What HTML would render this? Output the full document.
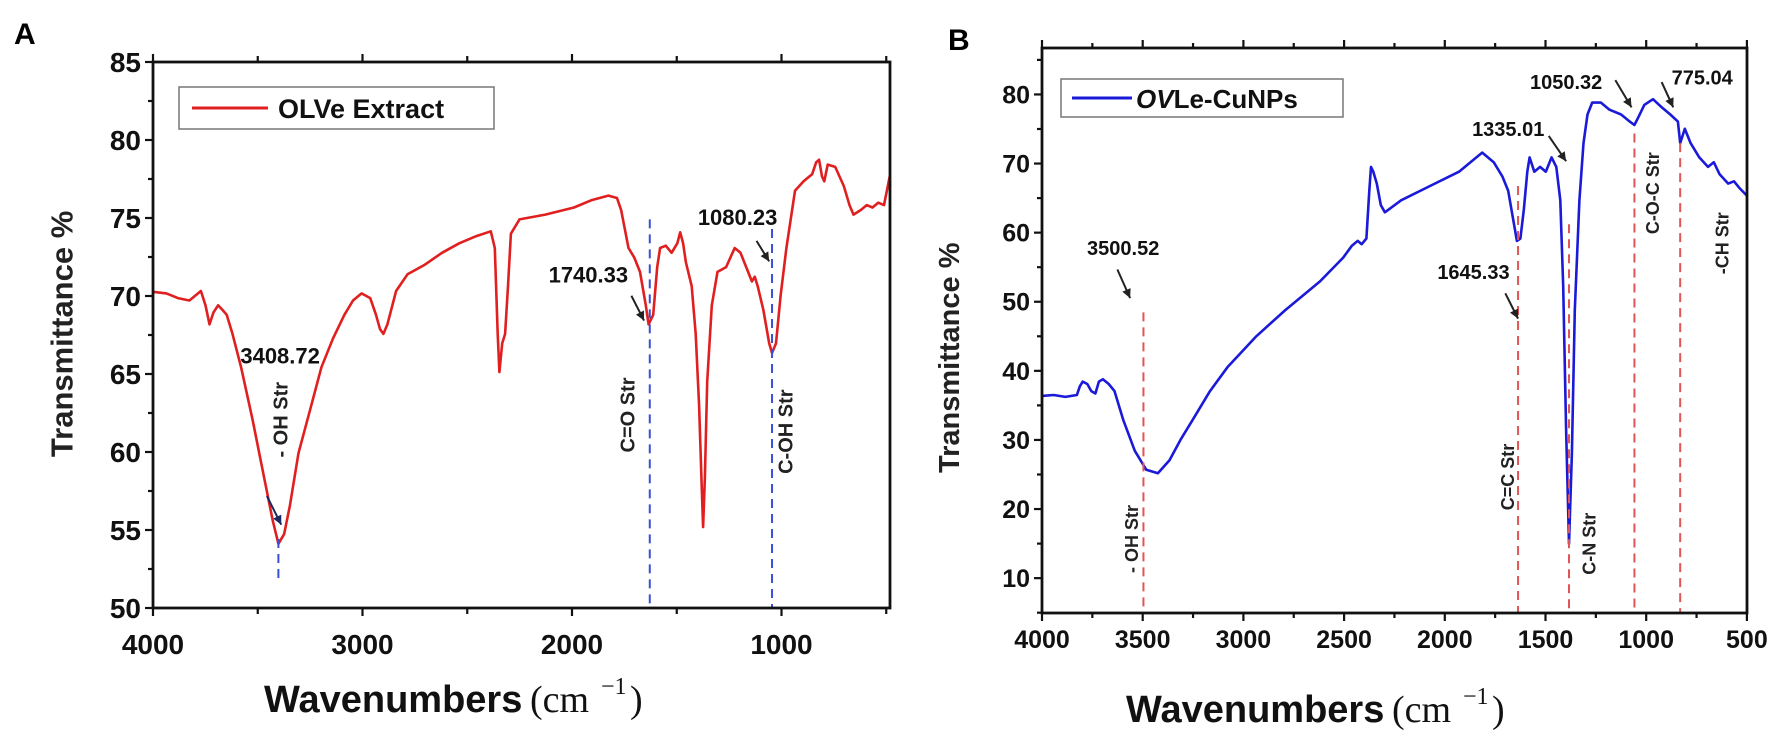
<!DOCTYPE html>
<html><head><meta charset="utf-8">
<style>
html,body{margin:0;padding:0;background:#fff;}
svg{display:block;font-family:"Liberation Sans",Arial,sans-serif;}
</style></head>
<body>
<svg id="s" width="1788" height="748" viewBox="0 0 1788 748" xmlns="http://www.w3.org/2000/svg">
<rect width="1788" height="748" fill="#fff"/>
<text x="14" y="44" font-size="30" font-weight="bold">A</text>
<text x="948" y="50" font-size="30" font-weight="bold">B</text>
<g id="g"></g>
</svg>
<script>
const NS="http://www.w3.org/2000/svg";
const g=document.getElementById('g');
function el(tag,attrs,text){const e=document.createElementNS(NS,tag);for(const k in attrs)e.setAttribute(k,attrs[k]);if(text!==undefined)e.textContent=text;g.appendChild(e);return e;}
function line(x1,y1,x2,y2,st,w,dash){return el('line',{x1,y1,x2,y2,stroke:st,'stroke-width':w||2.5,'stroke-dasharray':dash||'none'});}
function txt(x,y,s,size,anchor,extra){const a=Object.assign({x,y,'font-size':size,'font-weight':'bold','text-anchor':anchor||'middle',fill:'#111'},extra||{});return el('text',a,s);}
function rtxt(cx,cy,s,size){el('text',{x:0,y:0,'font-size':size,'font-weight':'bold','text-anchor':'middle','dominant-baseline':'central',fill:'#222',transform:`translate(${cx},${cy}) rotate(-90)`},s);}
function arrow(x1,y1,x2,y2,c){line(x1,y1,x2,y2,c,2);const a=Math.atan2(y2-y1,x2-x1),L=9,W=4.5;
 const p=[[x2,y2],[x2-L*Math.cos(a)+W*Math.sin(a),y2-L*Math.sin(a)-W*Math.cos(a)],[x2-L*Math.cos(a)-W*Math.sin(a),y2-L*Math.sin(a)+W*Math.cos(a)]];
 el('polygon',{points:p.map(q=>q.join(',')).join(' '),fill:c});}

/* ---------- Panel A ---------- */
const AX=z=>z*0.574, AY=z=>z*0.477;
const aL=153,aR=890,aT=62,aB=608;
const axA=w=>aL+(4000-w)*0.2095, ayA=t=>aB-(t-50)*15.6;
// curve
const A=[[268,612],[290,615],[310,625],[330,630],[350,610],[358,640],[365,680],[372,655],[380,640],[388,650],[395,660],[405,700],[420,770],[440,880],[460,1000],[475,1090],[485,1140],[495,1120],[505,1060],[520,950],[540,860],[560,770],[580,710],[600,660],[615,630],[630,615],[645,625],[655,660],[662,690],[668,700],[675,680],[690,610],[710,575],[740,555],[770,530],[800,510],[830,495],[855,485],[862,520],[867,700],[870,780],[875,720],[880,700],[885,600],[890,490],[905,460],[950,450],[1000,435],[1030,420],[1060,410],[1075,415],[1082,440],[1095,520],[1105,540],[1115,570],[1125,640],[1130,680],[1138,660],[1145,560],[1150,520],[1160,515],[1170,530],[1180,510],[1185,487],[1190,510],[1195,550],[1205,600],[1212,700],[1218,850],[1222,1000],[1225,1105],[1228,1000],[1232,800],[1240,640],[1250,570],[1265,560],[1280,520],[1290,530],[1300,560],[1310,590],[1315,580],[1320,600],[1330,650],[1340,720],[1345,740],[1352,720],[1360,620],[1370,520],[1385,400],[1400,380],[1415,365],[1422,340],[1427,335],[1432,370],[1436,380],[1442,345],[1455,350],[1470,390],[1480,430],[1487,450],[1500,440],[1510,430],[1520,435],[1530,425],[1540,430],[1550,370]];
el('polyline',{points:A.map(p=>AX(p[0]).toFixed(1)+','+AY(p[1]).toFixed(1)).join(' '),fill:'none',stroke:'#e02020','stroke-width':2.6,'stroke-linejoin':'round'});
// dashed
const bd='#3a4fd8';
line(AX(485),AY(1130),AX(485),AY(1215),bd,2,'9,6');
line(AX(1132),AY(460),AX(1132),aB,bd,2,'9,6');
line(AX(1345),AY(480),AX(1345),aB,bd,2,'9,6');
// arrows
arrow(AX(465),AY(1040),AX(490),AY(1100),'#1a2a60');
arrow(AX(1100),AY(620),AX(1122),AY(672),'#222');
arrow(AX(1318),AY(505),AX(1340),AY(548),'#222');
txt(AX(488),AY(745)+8,'3408.72',22);
txt(AX(1025),AY(575)+8,'1740.33',22);
txt(AX(1285),AY(455)+8,'1080.23',22);
rtxt(AX(490),AY(880),'- OH Str',20);
rtxt(AX(1095),AY(870),'C=O Str',20);
rtxt(AX(1370),AY(905),'C-OH Str',20);
// frame
el('rect',{x:aL,y:aT,width:aR-aL,height:aB-aT,fill:'none',stroke:'#111','stroke-width':2.8});
for(let t=50;t<=85;t+=2.5){const y=ayA(t),maj=(t%5===0);line(aL-(maj?8:5),y,aL,y,'#111',2.2);line(aR,y,aR+(maj?0:0),y,'#111',0);
 if(maj)txt(aL-12,y+10,String(t),28,'end');}
for(let w=4000;w>=500;w-=500){const x=axA(w);if(x>aR+1)continue;const maj=(w%1000===0);
 line(x,aB,x,aB+(maj?8:6),'#111',2.2);line(x,aT,x,aT-(maj?8:6),'#111',2.2);
 if(maj)txt(x,AY(1350)+10,String(w),28);}
// legend
el('rect',{x:179,y:87,width:315,height:42,fill:'#fff',stroke:'#777','stroke-width':1.5});
line(192,108,268,108,'#e02020',3);
txt(278,118,'OLVe Extract',27,'start');
rtxt(62,AY(700),'Transmittance %',31);
el('text',{x:264,y:712,'font-size':38,'font-weight':'bold',fill:'#111'},'Wavenumbers');
el('text',{x:530,y:712,'font-size':38,'font-family':'Liberation Serif,serif',fill:'#111'},'(cm');
el('text',{x:601,y:694,'font-size':24,'font-family':'Liberation Serif,serif',fill:'#111'},'−1');
el('text',{x:630,y:712,'font-size':38,'font-family':'Liberation Serif,serif',fill:'#111'},')');

/* ---------- Panel B ---------- */
const BX=z=>z*0.579+880, BY=z=>z*0.477;
const bL=1042,bR=1747,bT=48,bB=613;
const bx=w=>bL+(4000-w)*0.2014, by=t=>BY(198)+(80-t)*6.91;
const B=[[280,830],[300,828],[320,832],[340,828],[345,810],[350,800],[358,805],[365,820],[372,825],[378,800],[385,795],[395,805],[405,820],[420,880],[440,945],[460,985],[480,992],[500,965],[520,920],[540,880],[570,820],[600,770],[650,705],[700,650],[760,590],[800,540],[815,515],[825,505],[832,512],[840,500],[845,400],[848,350],[852,360],[858,385],[865,430],[872,445],[900,420],[950,390],[1000,360],[1030,330],[1040,320],[1050,330],[1060,340],[1075,370],[1085,400],[1095,470],[1100,505],[1106,500],[1112,440],[1118,360],[1122,330],[1130,360],[1140,350],[1150,360],[1160,330],[1168,350],[1175,420],[1180,600],[1185,900],[1190,1140],[1195,950],[1200,650],[1208,420],[1215,300],[1222,240],[1230,215],[1245,215],[1260,230],[1280,240],[1295,255],[1303,262],[1310,245],[1320,220],[1335,208],[1350,225],[1365,240],[1378,255],[1382,300],[1390,270],[1400,300],[1415,330],[1430,350],[1440,340],[1450,365],[1465,385],[1475,380],[1485,395],[1497,410]];
el('polyline',{points:B.map(p=>BX(p[0]).toFixed(1)+','+BY(p[1]).toFixed(1)).join(' '),fill:'none',stroke:'#1a1ad8','stroke-width':2.6,'stroke-linejoin':'round'});
const rd='#e05555';
[[455,655],[1102,390],[1190,470],[1303,280],[1382,300]].forEach(p=>line(BX(p[0]),BY(p[1]),BX(p[0]),bB,rd,2,'9,6'));
arrow(BX(410),BY(565),BX(432),BY(625),'#222');
arrow(BX(1080),BY(615),BX(1102),BY(668),'#222');
arrow(BX(1155),BY(285),BX(1185),BY(338),'#222');
arrow(BX(1270),BY(168),BX(1298),BY(225),'#222');
arrow(BX(1350),BY(172),BX(1370),BY(225),'#222');
txt(BX(420),BY(520)+7,'3500.52',20);
txt(BX(1025),BY(570)+7,'1645.33',20);
txt(BX(1085),BY(270)+7,'1335.01',20);
txt(BX(1185),BY(172)+7,'1050.32',20);
txt(BX(1420),BY(162)+7,'775.04',20);
rtxt(BX(435),BY(1130),'- OH Str',18);
rtxt(BX(1085),BY(1000),'C=C Str',18);
rtxt(BX(1225),BY(1140),'C-N Str',18);
rtxt(BX(1335),BY(405),'C-O-C Str',18);
rtxt(BX(1455),BY(510),'-CH Str',18);
el('rect',{x:bL,y:bT,width:bR-bL,height:bB-bT,fill:'none',stroke:'#111','stroke-width':2.8});
for(let t=5;t<=85;t+=5){const y=by(t);if(y<bT||y>bB)continue;const maj=(t%10===0);line(bL-(maj?8:5),y,bL,y,'#111',2.2);
 if(maj)txt(bL-12,y+9,String(t),25,'end');}
for(let w=4000;w>=500;w-=250){const x=bx(w);const maj=(w%500===0);
 line(x,bB,x,bB+(maj?8:5),'#111',2.2);line(x,bT,x,bT-(maj?8:5),'#111',2.2);
 if(maj)txt(x,BY(1340)+9,String(w),25);}
el('rect',{x:1061,y:79,width:282,height:38,fill:'#fff',stroke:'#777','stroke-width':1.5});
line(1072,98,1132,98,'#1a1ad8',3);
el('text',{x:1136,y:108,'font-size':26,'font-weight':'bold',fill:'#111'},'');
const lt=el('text',{x:1136,y:108,'font-size':26,'font-weight':'bold',fill:'#111'});
lt.innerHTML='<tspan font-style="italic">OV</tspan>Le-CuNPs';
rtxt(950,BY(750),'Transmittance %',29);
el('text',{x:1126,y:722,'font-size':38,'font-weight':'bold',fill:'#111'},'Wavenumbers');
el('text',{x:1392,y:722,'font-size':38,'font-family':'Liberation Serif,serif',fill:'#111'},'(cm');
el('text',{x:1463,y:704,'font-size':24,'font-family':'Liberation Serif,serif',fill:'#111'},'−1');
el('text',{x:1492,y:722,'font-size':38,'font-family':'Liberation Serif,serif',fill:'#111'},')');
</script>
</body></html>
